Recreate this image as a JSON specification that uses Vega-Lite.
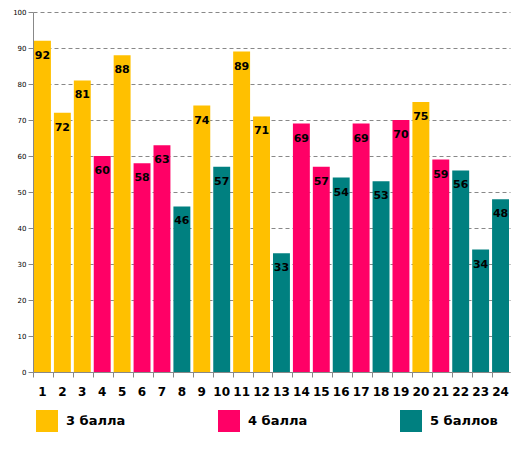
{
  "$schema": "https://vega.github.io/schema/vega-lite/v6.json",
  "width": 477,
  "height": 360,
  "autosize": {"type": "none"},
  "padding": {"left": 33, "top": 12, "right": 6, "bottom": 77},
  "background": "white",
  "config": {
    "view": {"stroke": null},
    "font": "DejaVu Sans"
  },
  "data": {
    "values": [
      {"n": 1, "v": 92, "g": "3 балла"},
      {"n": 2, "v": 72, "g": "3 балла"},
      {"n": 3, "v": 81, "g": "3 балла"},
      {"n": 4, "v": 60, "g": "4 балла"},
      {"n": 5, "v": 88, "g": "3 балла"},
      {"n": 6, "v": 58, "g": "4 балла"},
      {"n": 7, "v": 63, "g": "4 балла"},
      {"n": 8, "v": 46, "g": "5 баллов"},
      {"n": 9, "v": 74, "g": "3 балла"},
      {"n": 10, "v": 57, "g": "5 баллов"},
      {"n": 11, "v": 89, "g": "3 балла"},
      {"n": 12, "v": 71, "g": "3 балла"},
      {"n": 13, "v": 33, "g": "5 баллов"},
      {"n": 14, "v": 69, "g": "4 балла"},
      {"n": 15, "v": 57, "g": "4 балла"},
      {"n": 16, "v": 54, "g": "5 баллов"},
      {"n": 17, "v": 69, "g": "4 балла"},
      {"n": 18, "v": 53, "g": "5 баллов"},
      {"n": 19, "v": 70, "g": "4 балла"},
      {"n": 20, "v": 75, "g": "3 балла"},
      {"n": 21, "v": 59, "g": "4 балла"},
      {"n": 22, "v": 56, "g": "5 баллов"},
      {"n": 23, "v": 34, "g": "5 баллов"},
      {"n": 24, "v": 48, "g": "5 баллов"}
    ]
  },
  "encoding": {
    "x": {
      "field": "n", "type": "ordinal", "title": null,
      "scale": {"paddingInner": 0.15, "paddingOuter": 0.05},
      "axis": {
        "labelAngle": 0, "labelFontWeight": "bold", "labelFontSize": 12,
        "labelColor": "black", "labelPadding": 9,
        "bandPosition": 0, "tickSize": 5, "tickColor": "#888",
        "domainColor": "#888", "grid": false
      }
    },
    "y": {
      "field": "v", "type": "quantitative", "title": null,
      "scale": {"domain": [0, 100]},
      "axis": {
        "values": [0, 10, 20, 30, 40, 50, 60, 70, 80, 90, 100],
        "labelFontSize": 7, "labelColor": "black", "tickSize": 5,
        "tickColor": "#888", "domainColor": "#888",
        "grid": true, "gridDash": [4, 3], "gridColor": "#888",
        "gridOpacity": 1
      }
    }
  },
  "layer": [
    {
      "mark": {"type": "bar"},
      "encoding": {
        "color": {
          "field": "g", "type": "nominal", "title": null,
          "scale": {
            "domain": ["3 балла", "4 балла", "5 баллов"],
            "range": ["#FFC000", "#FF0066", "#008080"]
          },
          "legend": {
            "orient": "none", "legendX": 3, "legendY": 398,
            "direction": "horizontal", "padding": 0,
            "symbolType": "square", "symbolSize": 484,
            "symbolStrokeWidth": 0, "symbolOpacity": 1,
            "labelFontSize": 13, "labelFontWeight": "bold",
            "labelColor": "black", "labelOffset": 8,
            "columnPadding": 92, "labelLimit": 200
          }
        }
      }
    },
    {
      "mark": {"type": "text", "baseline": "top", "dy": 9, "fontWeight": "bold", "fontSize": 11, "color": "black"},
      "encoding": {"text": {"field": "v", "type": "quantitative"}}
    }
  ]
}
